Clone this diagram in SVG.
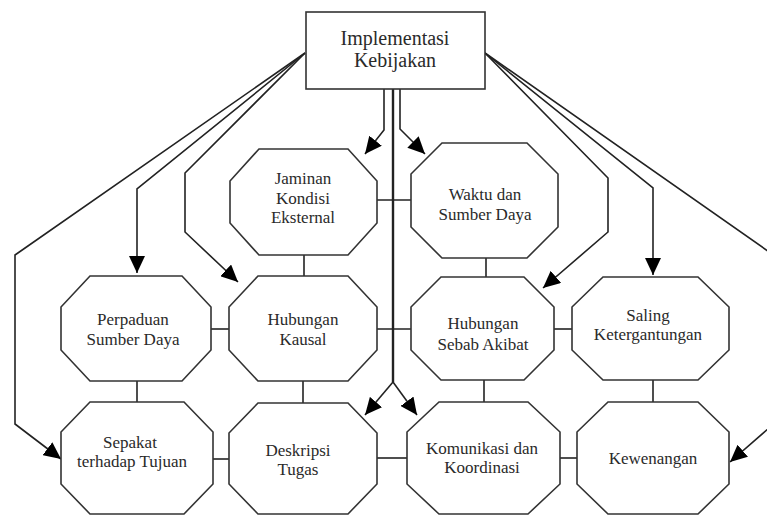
<svg xmlns="http://www.w3.org/2000/svg" width="767" height="516" viewBox="0 0 767 516">
<style>
.n{fill:#fff;stroke:#333;stroke-width:1.6}
.t{font-family:"Liberation Serif","Times New Roman",serif;font-size:17px;fill:#2a2a2a;text-anchor:middle}
.tt{font-size:20px}
.c{fill:none;stroke:#222;stroke-width:1.6}
.a{marker-end:url(#ah)}
.m{stroke-width:2.4}
</style>
<defs>
<marker id="ah" markerUnits="userSpaceOnUse" markerWidth="18" markerHeight="16" refX="17" refY="8" orient="auto">
<path d="M0,0 L17,8 L0,16 z" fill="#000"/>
</marker>
</defs>
<rect width="767" height="516" fill="#fff"/>
<g id="connectors">
<path class="c" d="M304 255V276"/>
<path class="c" d="M377 200H411"/>
<path class="c" d="M486 258V277"/>
<path class="c" d="M211 329H229"/>
<path class="c" d="M377 329H411"/>
<path class="c" d="M554 329H572"/>
<path class="c" d="M137 381V402"/>
<path class="c" d="M303 381V403"/>
<path class="c" d="M484 380V402"/>
<path class="c" d="M653 380V402"/>
<path class="c" d="M213 459H229"/>
<path class="c" d="M377 458H407"/>
<path class="c" d="M560 458H577"/>
<path class="c a" d="M384 89V130L365 154"/>
<path class="c a" d="M400 89V129L425 154"/>
<path class="c m" d="M393 89V382"/>
<path class="c a" d="M393 382L365 415"/>
<path class="c a" d="M393 382L417 415"/>
<path class="c a" d="M305 53L15 255V424L61 459"/>
<path class="c a" d="M305 53L137 189V273"/>
<path class="c a" d="M305 53L185 173V232L238 282"/>
<path class="c a" d="M485 53L608 178V232L543 288"/>
<path class="c a" d="M485 53L653 188V275"/>
<path class="c a" d="M485 53L785 263V414L730 462"/>
</g>
<g id="implementasi">
<rect class="n" x="306" y="12" width="179" height="77"/>
<text class="t tt" x="395" y="45">Implementasi</text>
<text class="t tt" x="395" y="67">Kebijakan</text>
</g>
<g id="jaminan">
<polygon class="n" points="259,149 348,149 377,181 377,223 348,255 259,255 230,223 230,181"/>
<text class="t" x="303" y="184">Jaminan</text>
<text class="t" x="303" y="204">Kondisi</text>
<text class="t" x="303" y="223">Eksternal</text>
</g>
<g id="waktu">
<polygon class="n" points="442,143 527,143 558,174 558,227 527,258 442,258 411,227 411,174"/>
<text class="t" x="485" y="200">Waktu dan</text>
<text class="t" x="485" y="220">Sumber Daya</text>
</g>
<g id="perpaduan">
<polygon class="n" points="90,276 182,276 211,307 211,350 182,381 90,381 61,350 61,307"/>
<text class="t" x="133" y="325">Perpaduan</text>
<text class="t" x="133" y="345">Sumber Daya</text>
</g>
<g id="kausal">
<polygon class="n" points="258,276 348,276 377,307 377,350 348,381 258,381 229,350 229,307"/>
<text class="t" x="303" y="325">Hubungan</text>
<text class="t" x="303" y="345">Kausal</text>
</g>
<g id="sebab">
<polygon class="n" points="441,277 524,277 554,307 554,350 524,380 441,380 411,350 411,307"/>
<text class="t" x="483" y="329">Hubungan</text>
<text class="t" x="483" y="350">Sebab Akibat</text>
</g>
<g id="saling">
<polygon class="n" points="603,277 698,277 729,307 729,350 698,380 603,380 572,350 572,307"/>
<text class="t" x="648" y="321">Saling</text>
<text class="t" x="648" y="340">Ketergantungan</text>
</g>
<g id="sepakat">
<polygon class="n" points="90,402 184,402 213,432 213,484 184,514 90,514 61,484 61,432"/>
<text class="t" x="130" y="448">Sepakat</text>
<text class="t" x="132" y="467">terhadap Tujuan</text>
</g>
<g id="deskripsi">
<polygon class="n" points="258,403 348,403 377,433 377,484 348,514 258,514 229,484 229,433"/>
<text class="t" x="298" y="456">Deskripsi</text>
<text class="t" x="298" y="475">Tugas</text>
</g>
<g id="komunikasi">
<polygon class="n" points="439,402 528,402 560,432 560,484 528,514 439,514 407,484 407,432"/>
<text class="t" x="482" y="454">Komunikasi dan</text>
<text class="t" x="482" y="473">Koordinasi</text>
</g>
<g id="kewenangan">
<polygon class="n" points="608,402 698,402 729,432 729,484 698,514 608,514 577,484 577,432"/>
<text class="t" x="653" y="464">Kewenangan</text>
</g>
</svg>
